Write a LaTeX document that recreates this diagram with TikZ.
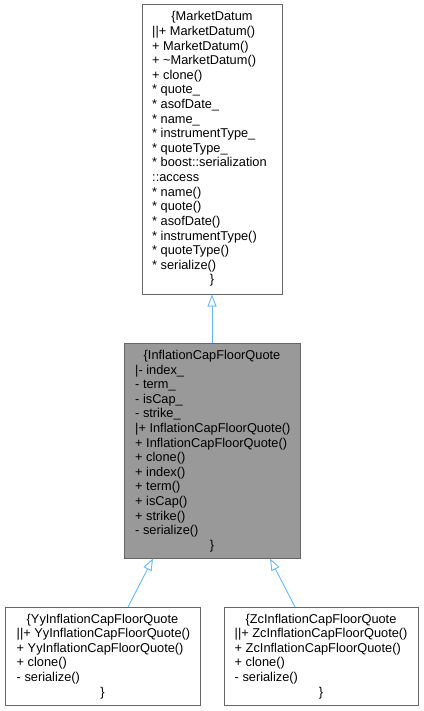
\documentclass[tikz,border=0pt]{standalone}
\usepackage{fontspec}
\setmainfont{Liberation Sans}
\usetikzlibrary{arrows.meta}
\definecolor{edgeblue}{HTML}{63B8FF}
\definecolor{boxborder}{HTML}{666666}
\definecolor{curfill}{HTML}{999999}
\begin{document}
\begin{tikzpicture}[x=1pt,y=-1pt,
  umlbox/.style={draw=boxborder,line width=1pt,inner sep=0pt,rectangle},
  txt/.style={inner sep=0pt,font=\fontsize{12.8}{14}\selectfont},
  inherit/.style={draw=edgeblue,line width=0.9pt,-{Triangle[open,length=12pt,width=9pt]}}]
\useasboundingbox (0,0) rectangle (423,711);
% boxes
\node[umlbox, minimum width=140pt, minimum height=289pt] (md) at (212,149.5) {};
\node[umlbox, fill=curfill, minimum width=176pt, minimum height=215pt] (ic) at (212,451) {};
\node[umlbox, minimum width=195pt, minimum height=98pt] (yy) at (102.5,656) {};
\node[umlbox, minimum width=194pt, minimum height=98pt] (zc) at (321,656) {};
% MarketDatum
\node[txt,anchor=base] (mdt) at (212,21) {\{MarketDatum};
\foreach[count=\i] \s in {{||+ MarketDatum()},{+ MarketDatum()},{+ \textasciitilde MarketDatum()},{+ clone()},{* quote\_},{* asofDate\_},{* name\_},{* instrumentType\_},{* quoteType\_},{* boost::serialization},{::access},{* name()},{* quote()},{* asofDate()},{* instrumentType()},{* quoteType()},{* serialize()}}
  \node[txt,anchor=base west,name=mdl\i] at (152,21+\i*14.6) {\s};
\node[txt,anchor=base] (mdb) at (212,283.8) {\}};
% InflationCapFloorQuote
\node[txt,anchor=base] (ict) at (212,359.5) {\{InflationCapFloorQuote};
\foreach[count=\i] \s in {{|- index\_},{- term\_},{- isCap\_},{- strike\_},{|+ InflationCapFloorQuote()},{+ InflationCapFloorQuote()},{+ clone()},{+ index()},{+ term()},{+ isCap()},{+ strike()},{- serialize()}}
  \node[txt,anchor=base west,name=icl\i] at (135,359.5+\i*14.6) {\s};
\node[txt,anchor=base] (icb) at (212,549.3) {\}};
% YyInflationCapFloorQuote
\node[txt,anchor=base] (yyt) at (102.5,623) {\{YyInflationCapFloorQuote};
\foreach[count=\i] \s in {{||+ YyInflationCapFloorQuote()},{+ YyInflationCapFloorQuote()},{+ clone()},{- serialize()}}
  \node[txt,anchor=base west,name=yyl\i] at (16.5,623+\i*14.6) {\s};
\node[txt,anchor=base] (yyb) at (102.5,696) {\}};
% ZcInflationCapFloorQuote
\node[txt,anchor=base] (zct) at (321,623) {\{ZcInflationCapFloorQuote};
\foreach[count=\i] \s in {{||+ ZcInflationCapFloorQuote()},{+ ZcInflationCapFloorQuote()},{+ clone()},{- serialize()}}
  \node[txt,anchor=base west,name=zcl\i] at (234.5,623+\i*14.6) {\s};
\node[txt,anchor=base] (zcb) at (321,696) {\}};
% connectors
\coordinate (yyA) at (128,607);
\coordinate (icA) at (153,558.5);
\coordinate (zcA) at (295,607);
\coordinate (icB) at (270,558.5);
\draw[inherit] (ic.north) -- (md.south);
\draw[inherit] (yyA) -- (icA);
\draw[inherit] (zcA) -- (icB);
\end{tikzpicture}
\end{document}
